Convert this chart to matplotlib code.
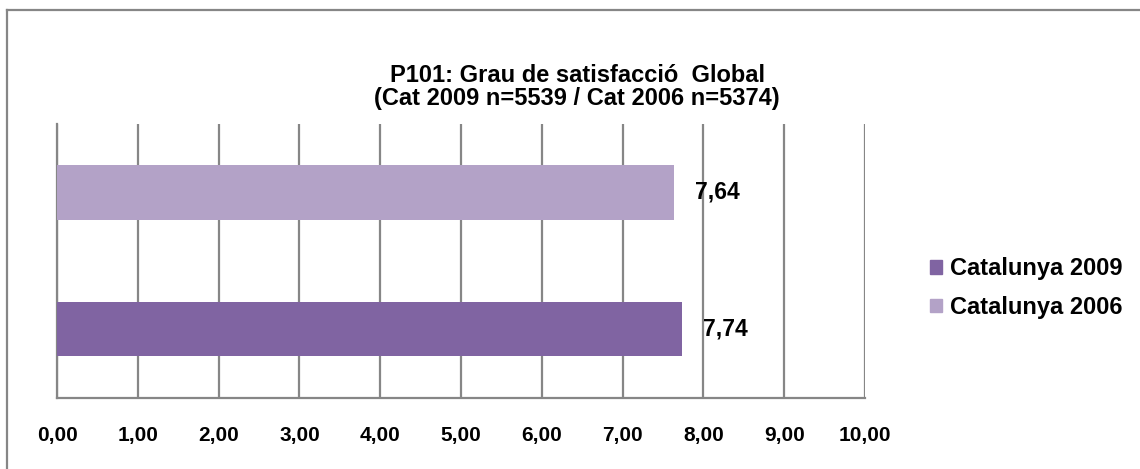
import numpy as np
import matplotlib.pyplot as plt
from matplotlib.patches import Rectangle

# ================= data =================
series = ["Catalunya 2009", "Catalunya 2006"]
values = [7.74, 7.64]
colors = ["#8064A2", "#B3A2C7"]
y_pos = [-0.25, 0.25]
ticks = np.arange(0, 11, 1)
tick_labels = [f"{t:.2f}".replace(".", ",") for t in ticks]

title_lines = ["P101: Grau de satisfacció  Global",
               "(Cat 2009 n=5539 / Cat 2006 n=5374)"]

plt.rcParams['font.family'] = ['Liberation Sans', 'DejaVu Sans']
grid_col = "#868686"

fig = plt.figure(figsize=(11.4, 4.69), dpi=100, facecolor='white')
ax = fig.add_axes([57/1140, 1 - 397.5/469, (865-57)/1140, (397.5-124)/469])

for y, v, c, lab in zip(y_pos, values, colors, series):
    ax.barh(y, v, height=0.2, color=c, label=lab, zorder=3)
    ax.text(v + 0.26, y, f"{v:.2f}".replace(".", ","), va='center', ha='left',
            fontsize=16.5, fontweight='bold', zorder=4)

ax.set_xlim(0, 10)
ax.set_ylim(-0.5, 0.5)
ax.set_xticks(ticks)
ax.set_xticklabels(tick_labels, fontsize=15, fontweight='bold')
ax.set_yticks([])
ax.tick_params(axis='x', length=0, pad=20.5)
ax.grid(axis='x', color=grid_col, linewidth=1.6, zorder=1)

for s in ['top', 'right']:
    ax.spines[s].set_visible(False)
for s in ['left', 'bottom']:
    ax.spines[s].set_color(grid_col)
    ax.spines[s].set_linewidth(1.6)

# title, two lines placed separately to keep the tight line spacing
for line, ypx in zip(title_lines, [76, 98]):
    fig.text(577/1140, 1 - ypx/469, line, ha='center', va='center',
             fontsize=17, fontweight='bold')

# legend
handles = [Rectangle((0, 0), 1, 1, color=c) for c in colors]
fig.legend(handles, series, loc='center left',
           bbox_to_anchor=(930/1140, 1 - 288/469), frameon=False,
           prop={'size': 17, 'weight': 'bold'}, handlelength=0.5,
           handleheight=0.5, handletextpad=0.35, labelspacing=0.65,
           borderpad=0, borderaxespad=0)

# outer chart border (left and top only are visible)
fig.add_artist(plt.Line2D([7/1140, 7/1140], [0, 1 - 10/469], color=grid_col,
                          linewidth=1.6, transform=fig.transFigure))
fig.add_artist(plt.Line2D([7/1140, 1], [1 - 10/469, 1 - 10/469], color=grid_col,
                          linewidth=1.6, transform=fig.transFigure))

fig.savefig("out.png", dpi=100, facecolor='white')
